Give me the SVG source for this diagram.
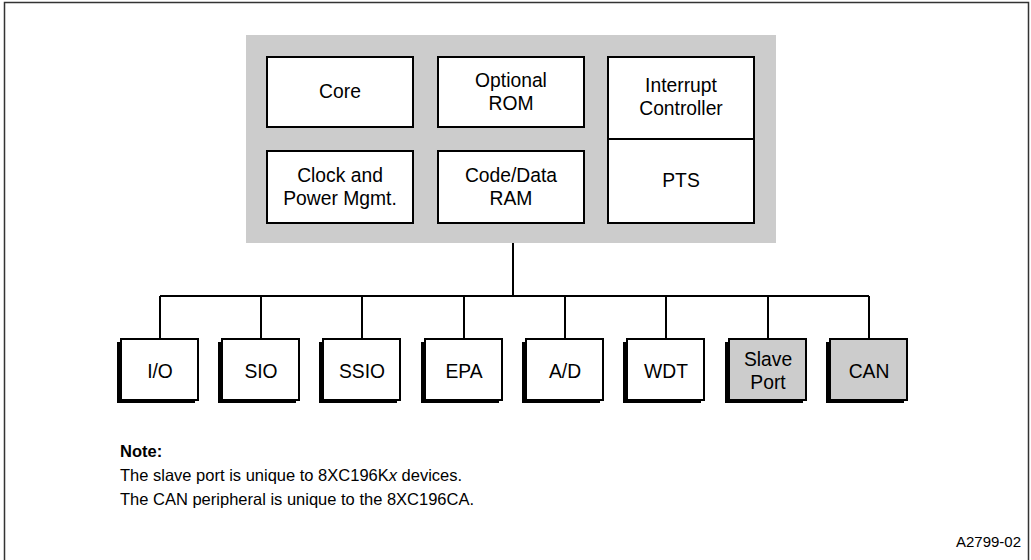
<svg xmlns="http://www.w3.org/2000/svg" width="1031" height="560" viewBox="0 0 1031 560">
<style>
text{font-family:"Liberation Sans",Arial,sans-serif;fill:#000}
.lbl{font-size:19.3px;text-anchor:middle}
.box{fill:#fff;stroke:#000;stroke-width:2}
.gbox{fill:#ccc;stroke:#000;stroke-width:2}
.sh{fill:#000}
.ln{stroke:#000;stroke-width:2;fill:none}
.note{font-size:16.5px}
</style>
<rect width="1031" height="560" fill="#fff"/>
<path d="M4.5,562 V2.5 H1028.5 V562" fill="none" stroke="#333" stroke-width="1.5"/>
<g id="cpu">
<rect x="246" y="35" width="530" height="208" fill="#ccc"/>
</g>
<g id="core"><rect class="box" x="267" y="57" width="146" height="70"/><text class="lbl" x="340" y="98">Core</text></g>
<g id="rom"><rect class="box" x="438" y="57" width="146" height="70"/><text class="lbl" x="511" y="87">Optional</text><text class="lbl" x="511" y="110">ROM</text></g>
<g id="intc"><rect class="box" x="608" y="57" width="146" height="82"/><text class="lbl" x="681" y="92">Interrupt</text><text class="lbl" x="681" y="115">Controller</text></g>
<g id="pts"><rect class="box" x="608" y="139" width="146" height="84"/><text class="lbl" x="681" y="187">PTS</text></g>
<g id="clock"><rect class="box" x="267" y="151" width="146" height="72"/><text class="lbl" x="340" y="182">Clock and</text><text class="lbl" x="340" y="205">Power Mgmt.</text></g>
<g id="ram"><rect class="box" x="438" y="151" width="146" height="72"/><text class="lbl" x="511" y="182">Code/Data</text><text class="lbl" x="511" y="205">RAM</text></g>
<g id="connectors">
<path class="ln" d="M513,243 V296 M160,296 H869 M160,296 V339 M261,296 V339 M362,296 V339 M464,296 V339 M565,296 V339 M666,296 V339 M768,296 V339 M869,296 V339"/>
</g>
<g id="io"><rect class="sh" x="117" y="342" width="78" height="61"/><rect class="box" x="121" y="339" width="77" height="61"/><text class="lbl" x="160" y="378">I/O</text></g>
<g id="sio"><rect class="sh" x="218" y="342" width="78" height="61"/><rect class="box" x="222" y="339" width="77" height="61"/><text class="lbl" x="261" y="378">SIO</text></g>
<g id="ssio"><rect class="sh" x="319" y="342" width="78" height="61"/><rect class="box" x="323" y="339" width="77" height="61"/><text class="lbl" x="362" y="378">SSIO</text></g>
<g id="epa"><rect class="sh" x="421" y="342" width="78" height="61"/><rect class="box" x="425" y="339" width="77" height="61"/><text class="lbl" x="464" y="378">EPA</text></g>
<g id="ad"><rect class="sh" x="522" y="342" width="78" height="61"/><rect class="box" x="526" y="339" width="77" height="61"/><text class="lbl" x="565" y="378">A/D</text></g>
<g id="wdt"><rect class="sh" x="623" y="342" width="78" height="61"/><rect class="box" x="627" y="339" width="77" height="61"/><text class="lbl" x="666" y="378">WDT</text></g>
<g id="slave"><rect class="sh" x="725" y="342" width="78" height="61"/><rect class="gbox" x="729" y="339" width="77" height="61"/><text class="lbl" x="768" y="366">Slave</text><text class="lbl" x="768" y="389">Port</text></g>
<g id="can"><rect class="sh" x="826" y="342" width="78" height="61"/><rect class="gbox" x="830" y="339" width="77" height="61"/><text class="lbl" x="869" y="378">CAN</text></g>
<g id="notes">
<text class="note" x="120" y="457" font-weight="bold">Note:</text>
<text class="note" x="120" y="481">The slave port is unique to 8XC196K<tspan font-style="italic">x</tspan> devices.</text>
<text class="note" x="120" y="505">The CAN peripheral is unique to the 8XC196CA.</text>
<text x="1021" y="547" font-size="15" text-anchor="end">A2799-02</text>
</g>
</svg>
